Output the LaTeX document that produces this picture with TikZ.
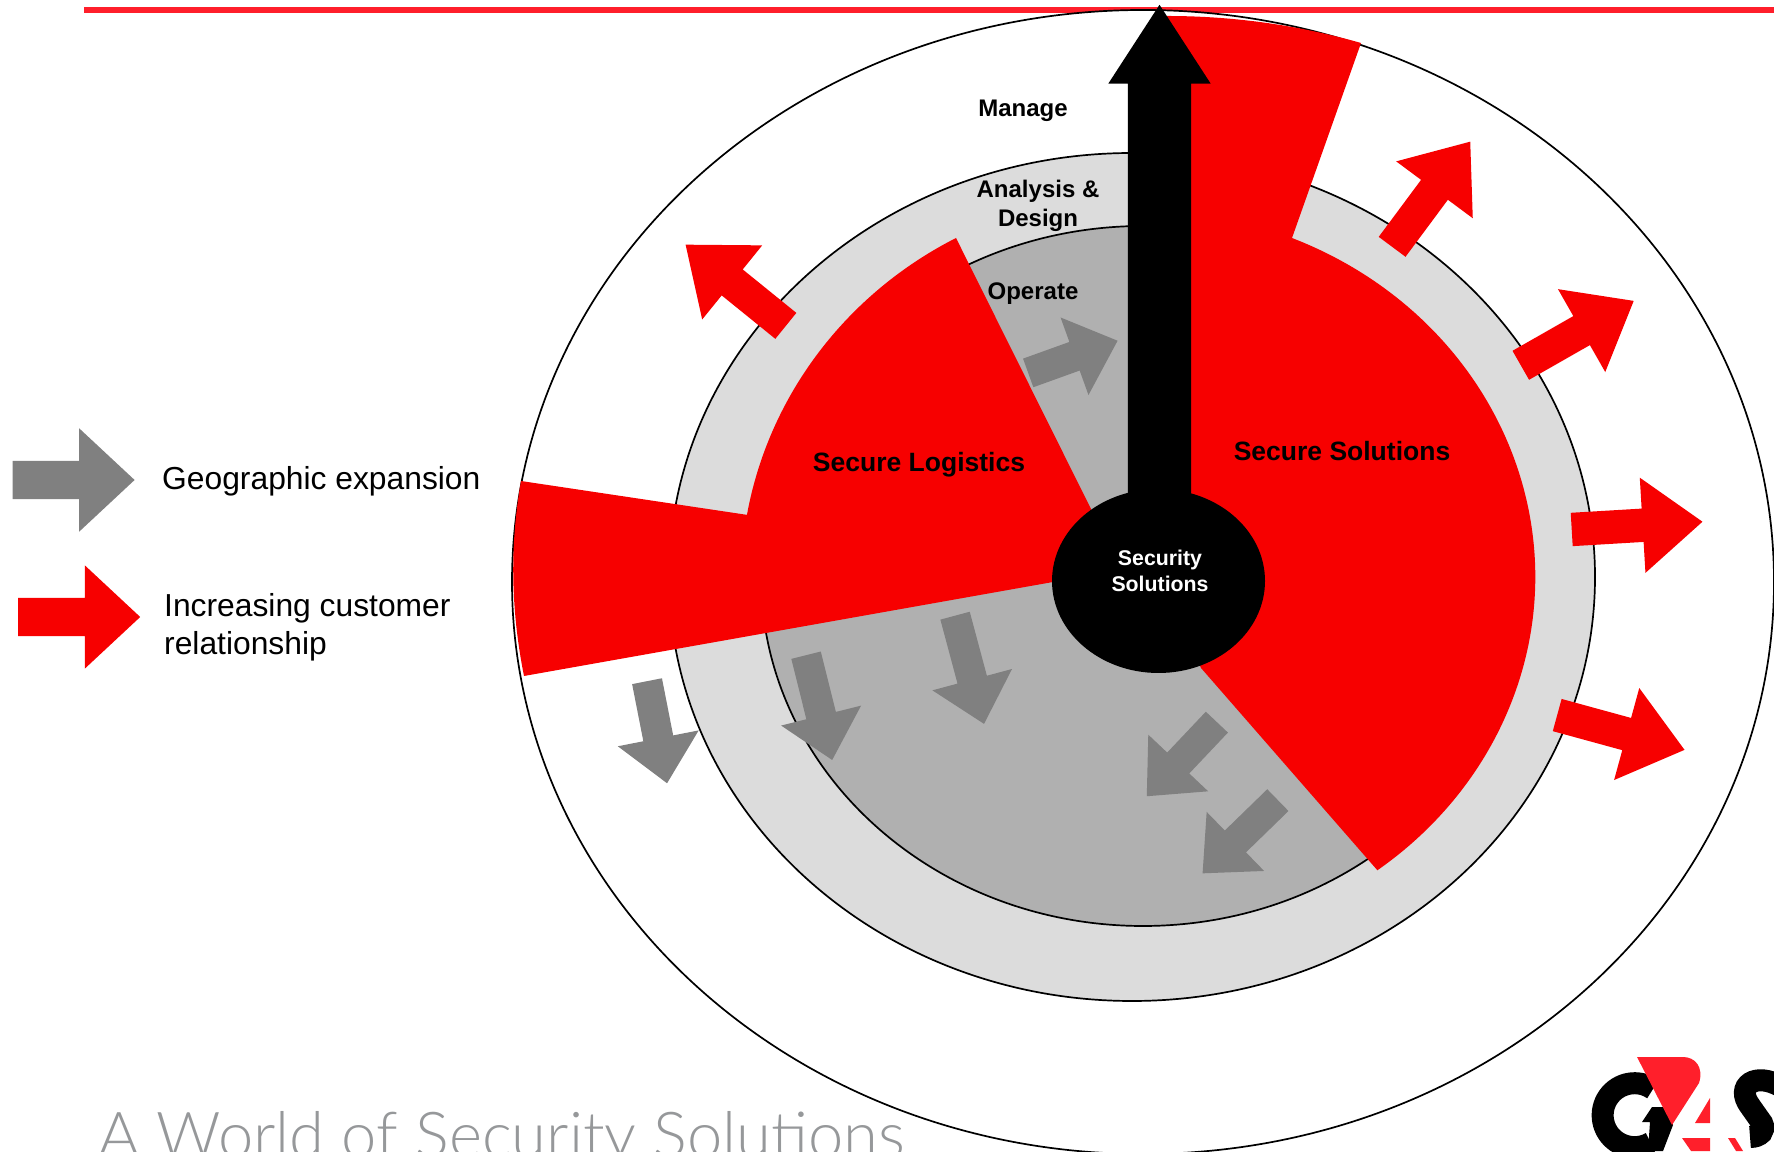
\documentclass[tikz,border=0pt]{standalone}
\usepackage{fontspec}
\setmainfont{Liberation Sans}
\newfontfamily\sloganfont{Lato Light}
\usetikzlibrary{positioning,shapes}
\definecolor{wedgered}{HTML}{F70000}
\definecolor{linered}{HTML}{FF1F2B}
\definecolor{ringlight}{HTML}{DCDCDC}
\definecolor{ringdark}{HTML}{B0B0B0}
\definecolor{arrowgray}{HTML}{808080}
\definecolor{slogangray}{HTML}{96989A}

\begin{document}
\begin{tikzpicture}[x=1pt,y=1pt]
	\tikzstyle{ring} = [draw=black, line width=1.7pt, ellipse, inner sep=0pt]
	\tikzstyle{arrowbase} = [single arrow, inner xsep=0pt, anchor=tail]
	\tikzstyle{redarrow} = [arrowbase, fill=wedgered, inner ysep=16.5pt, minimum width=95pt, single arrow head extend=31pt, single arrow tip angle=77]
	\tikzstyle{grayarrow} = [arrowbase, fill=arrowgray, inner ysep=15pt, minimum width=82pt, single arrow head extend=26pt, single arrow tip angle=84]
	\tikzstyle{legendarrow} = [arrowbase, inner ysep=19pt, minimum width=103pt, single arrow head extend=32.5pt, minimum height=122pt, single arrow tip angle=86]
	\tikzstyle{boldlabel} = [font=\fontsize{24}{29}\selectfont\bfseries, align=center, inner sep=0pt]
	\tikzstyle{bigbold} = [font=\fontsize{26.5}{30}\selectfont\bfseries, inner sep=0pt]
	\tikzstyle{legendtext} = [font=\fontsize{31.8}{37.5}\selectfont, align=left, inner sep=0pt]

	\useasboundingbox (0,0) rectangle (1774,1151);
	\clip (0,0) rectangle (1774,1151);

	\coordinate (linestart) at (84,1141);
	\coordinate (lineend) at (1774,1141);
	\draw [linered, line width=5.5pt] (linestart) -- (lineend);

	\node [ring, fill=white, minimum width=1262pt, minimum height=1144pt] (manage) at (1143,569) {};
	\node [ring, fill=ringlight, minimum width=926pt, minimum height=848pt] (analysis) at (1132,574) {};
	\node [ring, fill=ringdark, minimum width=764pt, minimum height=700pt] (operate) at (1143,575) {};

	\fill [wedgered] (956,913) arc [start angle=117.7, end angle=170, x radius=402pt, y radius=389pt] -- (521,670) .. controls (509.5,605) and (511,540) .. (524,475) -- (1053,569) -- (1110,580) -- (1092,640) -- cycle;
	\fill [wedgered] (1167,1135) .. controls (1240,1135) and (1305,1124) .. (1361,1108) -- (1292,913) arc [start angle=67.4, end angle=-53.1, x radius=395pt, y radius=367pt] -- (1201,483) -- (1160,580) -- cycle;

	\node [redarrow, minimum height=131pt, rotate=53.4] (outa) at (1392,904) {};
	\node [redarrow, minimum height=130pt, rotate=29.7] (outb) at (1520.6,785.6) {};
	\node [redarrow, minimum height=131pt, rotate=3.4] (outc) at (1571.5,621.5) {};
	\node [redarrow, minimum height=132pt, rotate=-15.3] (outd) at (1557,436) {};
	\node [redarrow, minimum height=129pt, rotate=141] (oute) at (786,825) {};

	\node [grayarrow, minimum height=95pt, rotate=19.8] (geoa) at (1028,778) {};
	\node [grayarrow, minimum height=104pt, rotate=-78.9] (geob) at (647,470) {};
	\node [grayarrow, minimum height=108pt, rotate=-76] (geoc) at (806,496) {};
	\node [grayarrow, minimum height=112pt, rotate=-75] (geod) at (955,535.5) {};
	\node [grayarrow, minimum height=102pt, rotate=-133.4] (geoe) at (1217,429) {};
	\node [grayarrow, minimum height=105pt, rotate=-135.8] (geof) at (1278,351) {};

	\node [arrowbase, fill=black, inner ysep=31.5pt, minimum width=102pt, single arrow head extend=19.5pt, minimum height=555pt, single arrow tip angle=66, rotate=90] (spine) at (1159.5,591) {};
	\node [ellipse, fill=black, inner sep=0pt, minimum width=213pt, minimum height=184pt] (hub) at (1158.5,570) {};

	\node [boldlabel] (managetext) at (1023,1040.5) {Manage};
	\node [boldlabel] (analysistext) at (1038,945) {Analysis \&\\Design};
	\node [boldlabel] (operatetext) at (1033,857) {Operate};
	\node [bigbold] (logistics) at (919,686) {Secure Logistics};
	\node [bigbold] (solutions) at (1342,700) {Secure Solutions};
	\node [font=\fontsize{21.3}{26}\selectfont\bfseries, text=white, align=center, inner sep=0pt] (hubtext) at (1160,580) {Security\\Solutions};

	\node [legendarrow, fill=arrowgray] (leggeo) at (12.4,671) {};
	\node [legendarrow, fill=wedgered] (legred) at (18,534) {};
	\node [legendtext, anchor=west] (leggeotext) at (162,669.5) {Geographic expansion};
	\node [legendtext, anchor=west] (legredtext) at (164,523.5) {Increasing customer\\relationship};

	\node [font=\fontsize{63.3}{65}\selectfont\sloganfont, text=slogangray, anchor=base west, inner sep=0pt] (slogan) at (98,-6) {A World of Security Solutions};

	\draw [black, line width=22pt] (1653,62) arc [start angle=55, end angle=300, radius=32pt];
	\fill [black] (1642,29) -- (1652,44) -- (1668,44) -- (1673,26) -- (1663,0) -- (1648,0) -- (1650,29) -- cycle;
	\draw [black, line width=22pt] (1782,64) .. controls (1755,80) and (1735,65) .. (1750,45) -- (1762,28) .. controls (1766,20) and (1760,14) .. (1750,14);
	\fill [linered] (1637,94) -- (1683,94) .. controls (1695,94) and (1704,84) .. (1699,68) -- (1672,26) -- cycle;
	\fill [linered] (1710,53) -- (1710,28) -- (1695,28) -- cycle;
	\fill [linered] (1682,13) -- (1710,13) -- (1710,0) -- (1691,0) -- cycle;
	\fill [linered] (1728,13) -- (1735,13) -- (1743,0) -- (1736,0) -- cycle;
\end{tikzpicture}
\end{document}
